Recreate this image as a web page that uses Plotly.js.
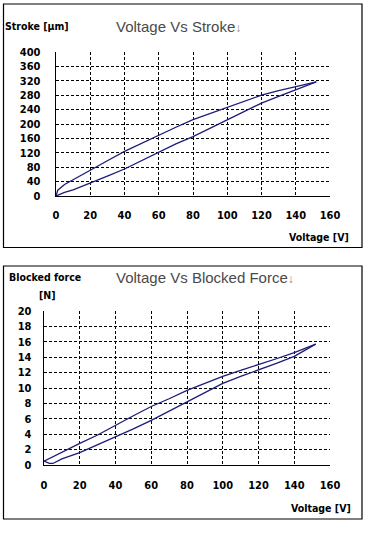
<!DOCTYPE html>
<html><head><meta charset="utf-8">
<script src="https://cdn.plot.ly/plotly-3.0.1.min.js"></script>
<style>html,body{margin:0;padding:0;background:#fff}#c{width:365px;height:538px}</style>
</head><body><div id="c"></div>
<script>
// Voltage vs Stroke (hysteresis loop)
const strokeUpV = [0, 5, 10, 20, 30, 40, 50, 60, 70, 80, 90, 100, 110, 120, 130, 140, 152];
const strokeUpY = [0, 10, 17, 35, 55, 75, 98, 123, 145, 165, 188, 211, 235, 258, 277, 296, 317];
const strokeDownV = [152, 140, 130, 120, 110, 100, 90, 80, 70, 60, 50, 40, 30, 20, 10, 5, 1, 0];
const strokeDownY = [317, 305, 293, 280, 263, 247, 230, 212, 191, 169, 146, 124, 98, 72, 45, 32, 16, 0];
// Voltage vs Blocked force
const forceUpV = [0, 3, 5, 10, 20, 30, 40, 50, 60, 70, 80, 90, 100, 110, 120, 130, 140, 152];
const forceUpY = [0.5, 0.2, 0.2, 0.8, 1.6, 2.6, 3.7, 4.7, 5.8, 7.0, 8.2, 9.4, 10.6, 11.5, 12.3, 13.2, 14.1, 15.7];
const forceDownV = [152, 140, 130, 120, 110, 100, 90, 80, 70, 60, 50, 40, 30, 20, 10, 5, 1, 0];
const forceDownY = [15.7, 14.6, 13.8, 13.1, 12.3, 11.5, 10.6, 9.7, 8.6, 7.6, 6.4, 5.1, 3.9, 2.8, 1.6, 1.0, 0.6, 0.5];
const xTicks = [0, 20, 40, 60, 80, 100, 120, 140, 160];
const strokeTicks = [0, 40, 80, 120, 160, 200, 240, 280, 320, 360, 400];
const forceTicks = [0, 2, 4, 6, 8, 10, 12, 14, 16, 18, 20];

const W = 365, H = 538;
const px = v => v / W, py = v => 1 - v / H;
const lineCol = '#1c1c78';
const narrow = 'DejaVu Sans Condensed, Liberation Sans Narrow, Arial Narrow, Liberation Sans, Arial';
const tickFont = {family: narrow, size: 11, color: '#000', weight: 'bold'};
const grid = {showgrid: true, gridcolor: '#000', gridwidth: 1, griddash: '3px,2px', zeroline: false,
  showline: true, linecolor: '#000', linewidth: 1.3, ticks: '', tickfont: tickFont};

const traces = [
  {x: strokeUpV, y: strokeUpY, xaxis: 'x', yaxis: 'y', mode: 'lines', line: {color: lineCol, width: 1.3}},
  {x: strokeDownV, y: strokeDownY, xaxis: 'x', yaxis: 'y', mode: 'lines', line: {color: lineCol, width: 1.3}},
  {x: forceUpV, y: forceUpY, xaxis: 'x2', yaxis: 'y2', mode: 'lines', line: {color: lineCol, width: 1.3}},
  {x: forceDownV, y: forceDownY, xaxis: 'x2', yaxis: 'y2', mode: 'lines', line: {color: lineCol, width: 1.3}}
];

const labFont = {family: narrow, size: 10.5, color: '#000', weight: 'bold'};
const titleFont = {family: 'Liberation Sans, Arial', size: 15, color: '#4a4a4a'};
function ann(text, x, y, font, xanchor) {
  return {text, x: px(x), y: py(y), xref: 'paper', yref: 'paper', showarrow: false, font, xanchor: xanchor || 'center', yanchor: 'middle'};
}
const arrow = '<span style="font-size:12px;color:#888">↓</span>';

const layout = {
  width: W, height: H, margin: {l: 0, r: 0, t: 0, b: 0}, showlegend: false,
  paper_bgcolor: '#fff', plot_bgcolor: '#fff',
  xaxis: Object.assign({}, grid, {domain: [px(56), px(330)], range: [0, 160], tickvals: xTicks, ticklabelstandoff: 8, anchor: 'y'}),
  yaxis: Object.assign({}, grid, {domain: [py(196), py(52)], range: [0, 400], tickvals: strokeTicks, ticklabelstandoff: 12, anchor: 'x'}),
  xaxis2: Object.assign({}, grid, {domain: [px(44), px(330)], range: [0, 160], tickvals: xTicks, ticklabelstandoff: 9, anchor: 'y2'}),
  yaxis2: Object.assign({}, grid, {domain: [py(465), py(311)], range: [0, 20], tickvals: forceTicks, ticklabelstandoff: 9, anchor: 'x2'}),
  shapes: [
    {type: 'rect', xref: 'paper', yref: 'paper', x0: px(3.5), x1: px(362), y0: py(247.5), y1: py(4), line: {color: '#000', width: 1.2}},
    {type: 'rect', xref: 'paper', yref: 'paper', x0: px(3.5), x1: px(362), y0: py(519), y1: py(266), line: {color: '#000', width: 1.2}}
  ],
  annotations: [
    ann('Stroke [µm]', 37, 26, labFont),
    ann('Voltage Vs Stroke' + arrow, 178, 26, titleFont),
    ann('Voltage [V]', 319, 237, labFont),
    ann('Blocked force', 45, 277, labFont),
    ann('[N]', 47, 295, labFont),
    ann('Voltage Vs Blocked Force' + arrow, 205, 277, titleFont),
    ann('Voltage [V]', 321, 508, labFont)
  ]
};
Plotly.newPlot('c', traces, layout, {displayModeBar: false, staticPlot: true});
</script></body></html>
